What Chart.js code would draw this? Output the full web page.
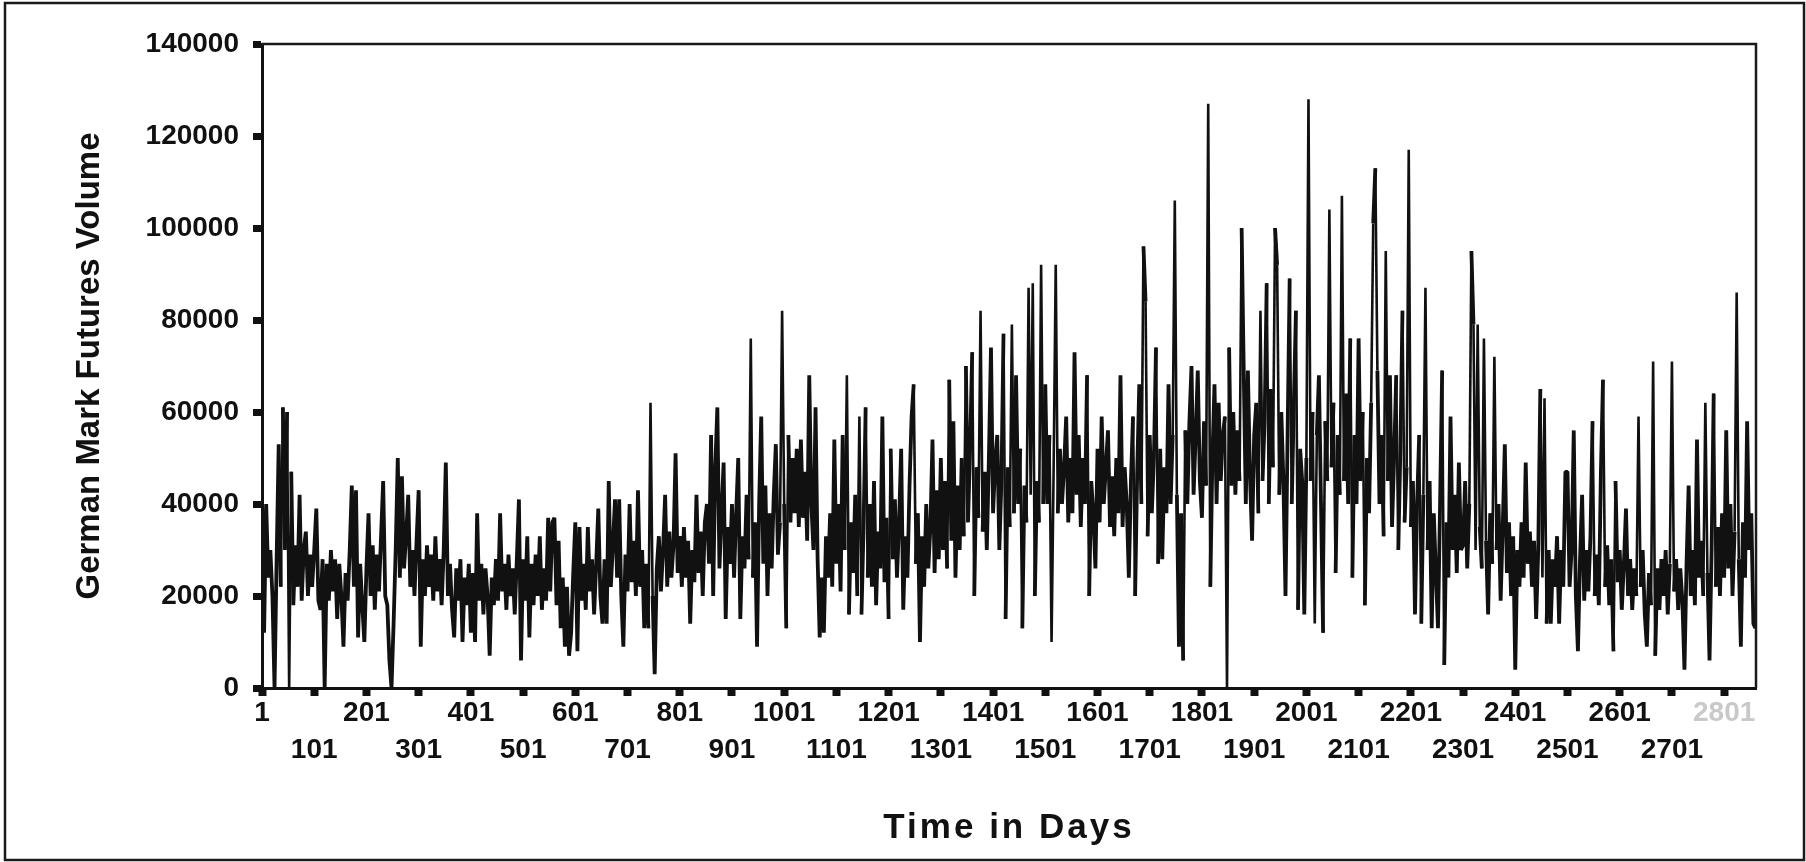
<!DOCTYPE html>
<html>
<head>
<meta charset="utf-8">
<title>German Mark Futures Volume</title>
<script src="https://cdn.jsdelivr.net/npm/chart.js@4.4.1/dist/chart.umd.min.js"></script>
<style>
  html, body { margin: 0; padding: 0; background: #fff; }
  canvas { display: block; }
</style>
</head>
<body>
<canvas id="volume-chart" width="1806" height="862"></canvas>
<script>
// Volume, in thousands of contracts, one reading every 4 days
const dayStep = 4;

// days 1 - 497
const volDays0001 = [
    42, 12, 40, 24, 30, 20, 0, 28, 53, 22,
    61, 30, 60, 0, 47, 18, 31, 22, 42, 19,
    30, 34, 20, 29, 22, 30, 39, 19, 17, 28,
    0, 27, 19, 30, 21, 28, 15, 27, 20, 9,
    25, 19, 30, 44, 22, 43, 11, 27, 18, 10,
    26, 38, 20, 31, 17, 29, 21, 33, 45, 20,
    18, 6, 0, 14, 30, 50, 24, 46, 26, 33,
    42, 22, 30, 20, 32, 43, 9, 28, 20, 31,
    22, 29, 19, 33, 21, 28, 18, 30, 49, 20,
    27, 17, 11, 26, 19, 28, 10, 24, 18, 27,
    12, 25, 10, 38, 19, 27, 16, 26, 20, 7,
    24, 18, 28, 19, 38, 21, 27, 17, 29, 20,
    26, 16, 28, 41, 6
];

// days 501 - 997
const volDays0501 = [
    28, 19, 33, 11, 27, 18, 29, 20, 33, 17,
    26, 19, 37, 21, 36, 37, 18, 32, 13, 24,
    9, 22, 7, 12, 25, 36, 8, 35, 19, 27,
    17, 35, 21, 28, 16, 27, 39, 20, 14, 28,
    14, 45, 22, 31, 41, 24, 41, 20, 9, 29,
    21, 40, 23, 32, 20, 43, 22, 30, 13, 27,
    13, 62, 20, 3, 26, 33, 21, 30, 42, 22,
    34, 24, 31, 51, 25, 33, 22, 35, 24, 32,
    14, 30, 23, 42, 25, 34, 20, 36, 40, 27,
    55, 20, 48, 61, 26, 38, 49, 15, 35, 27,
    40, 24, 38, 50, 15, 33, 26, 42, 28, 76,
    24, 36, 9, 40, 59, 27, 44, 20, 38, 26,
    42, 53, 29, 36, 82
];

// days 1001 - 1497
const volDays1001 = [
    40, 13, 55, 36, 50, 38, 52, 35, 54, 37,
    47, 32, 68, 40, 30, 61, 28, 11, 24, 12,
    33, 24, 38, 22, 54, 27, 40, 21, 55, 30,
    68, 16, 36, 25, 42, 20, 59, 16, 35, 61,
    24, 40, 22, 45, 18, 34, 26, 59, 23, 37,
    15, 52, 28, 41, 24, 36, 52, 17, 33, 24,
    44, 59, 66, 27, 38, 10, 33, 22, 40, 26,
    35, 54, 25, 43, 28, 50, 30, 45, 26, 67,
    32, 58, 24, 44, 30, 50, 33, 70, 36, 52,
    73, 20, 48, 37, 82, 34, 47, 30, 50, 74,
    38, 49, 55, 30, 45, 77, 15, 48, 35, 79,
    38, 68, 40, 52, 13, 44, 36, 87, 42, 88,
    20, 45, 36, 92, 40
];

// days 1501 - 1997
const volDays1501 = [
    66, 40, 55, 10, 48, 92, 38, 52, 40, 48,
    59, 36, 50, 38, 73, 42, 55, 35, 50, 40,
    68, 20, 45, 38, 26, 52, 36, 59, 40, 48,
    56, 35, 46, 33, 50, 38, 68, 35, 48, 40,
    24, 45, 59, 20, 47, 66, 40, 96, 84, 33,
    55, 38, 50, 74, 27, 52, 28, 48, 38, 66,
    40, 55, 106, 42, 9, 38, 6, 56, 40, 58,
    70, 42, 55, 69, 45, 37, 58, 44, 127, 22,
    50, 66, 40, 62, 45, 55, 59, 0, 74, 44,
    60, 42, 56, 45, 100, 69, 40, 69, 46, 32,
    55, 62, 38, 82, 45, 58, 88, 40, 65, 48,
    100, 92, 42, 60, 45, 20, 55, 89, 40, 62,
    82, 17, 52, 45, 16
];

// days 2001 - 2497
const volDays2001 = [
    50, 128, 45, 60, 14, 55, 68, 40, 12, 58,
    45, 104, 48, 62, 25, 55, 42, 107, 45, 64,
    40, 76, 24, 55, 40, 76, 45, 60, 18, 50,
    38, 62, 101, 113, 69, 40, 55, 33, 95, 45,
    68, 35, 50, 68, 30, 52, 82, 36, 48, 117,
    35, 45, 16, 40, 55, 14, 42, 87, 30, 45,
    13, 38, 25, 13, 40, 69, 5, 36, 24, 59,
    30, 42, 25, 49, 30, 31, 45, 26, 40, 95,
    79, 30, 79, 35, 26, 76, 32, 16, 38, 27,
    72, 30, 40, 19, 35, 53, 25, 36, 20, 33,
    4, 30, 22, 36, 24, 49, 27, 34, 22, 32,
    15, 30, 65, 24, 63, 14, 30, 14, 28, 22,
    33, 14, 30, 22, 47
];

// days 2501 - 2861
const volDays2501 = [
    47, 22, 30, 56, 20, 8, 28, 42, 19, 30,
    21, 33, 58, 20, 29, 18, 47, 67, 22, 31,
    18, 28, 8, 45, 23, 30, 17, 27, 39, 20,
    28, 17, 26, 20, 59, 22, 30, 16, 9, 25,
    18, 71, 7, 26, 17, 28, 20, 30, 16, 27,
    71, 21, 28, 17, 26, 19, 4, 27, 44, 20,
    30, 18, 54, 24, 32, 20, 62, 25, 6, 30,
    64, 22, 35, 20, 38, 24, 56, 26, 40, 20,
    34, 86, 28, 9, 36, 24, 58, 30, 38, 14,
    13
];

const dayTicks = [1, 101, 201, 301, 401, 501, 601, 701, 801, 901, 1001, 1101, 1201, 1301,
    1401, 1501, 1601, 1701, 1801, 1901, 2001, 2101, 2201, 2301, 2401, 2501, 2601, 2701, 2801];
const volumeTicks = [0, 20000, 40000, 60000, 80000, 100000, 120000, 140000];

const FONT = "'Liberation Sans', Arial, sans-serif";

const volume = [].concat(volDays0001, volDays0501, volDays1001, volDays1501, volDays2001, volDays2501);
const points = volume.map((v, i) => ({ x: 1 + i * dayStep, y: v * 1000 }));

// outer frame, top/right plot border, spaced x title
const framePlugin = {
    id: 'frame',
    beforeDraw(chart) {
        const xs = chart.scales.x;
        if (xs && !xs._spaced) {
            const drawTitle = xs.drawTitle;
            xs.drawTitle = function () {
                this.ctx.save();
                this.ctx.letterSpacing = '3px';
                drawTitle.call(this);
                this.ctx.letterSpacing = '0px';
                this.ctx.restore();
            };
            xs._spaced = true;
        }
    },
    afterDraw(chart) {
        const { ctx, chartArea: a } = chart;
        ctx.save();
        ctx.strokeStyle = '#1a1a1a';
        ctx.lineWidth = 2.5;
        ctx.beginPath();
        ctx.moveTo(a.left, a.top);
        ctx.lineTo(a.right, a.top);
        ctx.lineTo(a.right, a.bottom);
        ctx.stroke();
        ctx.strokeRect(5, 3, 1799, 857);
        ctx.restore();
    }
};

new Chart(document.getElementById('volume-chart').getContext('2d'), {
    type: 'line',
    data: {
        datasets: [{
            label: 'German Mark Futures Volume',
            data: points,
            borderColor: '#111',
            borderWidth: 2.6,
            borderJoinStyle: 'bevel',
            pointRadius: 0,
            tension: 0,
            fill: false,
            // the dense day-to-day band reads as solid ink in the scan
            segment: {
                borderWidth: ctx => (Math.abs(ctx.p1.parsed.y - ctx.p0.parsed.y) <= 36000 ? 3.8 : 2.6)
            }
        }]
    },
    options: {
        responsive: false,
        animation: false,
        devicePixelRatio: 1,
        layout: { padding: { top: 44, right: 50, bottom: 0, left: 0 } },
        plugins: {
            legend: { display: false },
            tooltip: { enabled: false }
        },
        scales: {
            x: {
                type: 'linear',
                min: 1,
                max: 2862,
                afterBuildTicks: axis => { axis.ticks = dayTicks.map(v => ({ value: v })); },
                afterFit: axis => { axis.height = 174; },
                border: { display: true, color: '#111', width: 3 },
                grid: { drawOnChartArea: false, tickLength: 8, tickWidth: 8, tickColor: '#111' },
                ticks: {
                    autoSkip: false,
                    maxRotation: 0,
                    minRotation: 0,
                    padding: -1,
                    color: ctx => (ctx.tick && ctx.tick.value === 2801 ? '#c9c9c9' : '#111'),
                    font: { family: FONT, size: 28, weight: 'bold', lineHeight: 1.32 },
                    callback: (v, i) => (i % 2 === 0 ? String(v) : ['', String(v)])
                },
                title: {
                    display: true,
                    text: 'Time in Days',
                    color: '#111',
                    font: { family: FONT, size: 35, weight: 'bold', lineHeight: 1.2 },
                    padding: { top: 0, bottom: 13 }
                }
            },
            y: {
                min: 0,
                max: 140000,
                afterBuildTicks: axis => { axis.ticks = volumeTicks.map(v => ({ value: v })); },
                afterFit: axis => { axis.width = 262; },
                border: { display: true, color: '#111', width: 3 },
                grid: { drawOnChartArea: false, tickLength: 9, tickWidth: 7, tickColor: '#111' },
                ticks: {
                    padding: 14,
                    color: '#111',
                    font: { family: FONT, size: 28, weight: 'bold' },
                    callback: v => String(v)
                },
                title: {
                    display: true,
                    text: 'German Mark Futures Volume',
                    color: '#111',
                    font: { family: FONT, size: 33, weight: 'bold', lineHeight: 1.2 },
                    padding: { top: 70, bottom: 0 }
                }
            }
        }
    },
    plugins: [framePlugin]
});
</script>
</body>
</html>
